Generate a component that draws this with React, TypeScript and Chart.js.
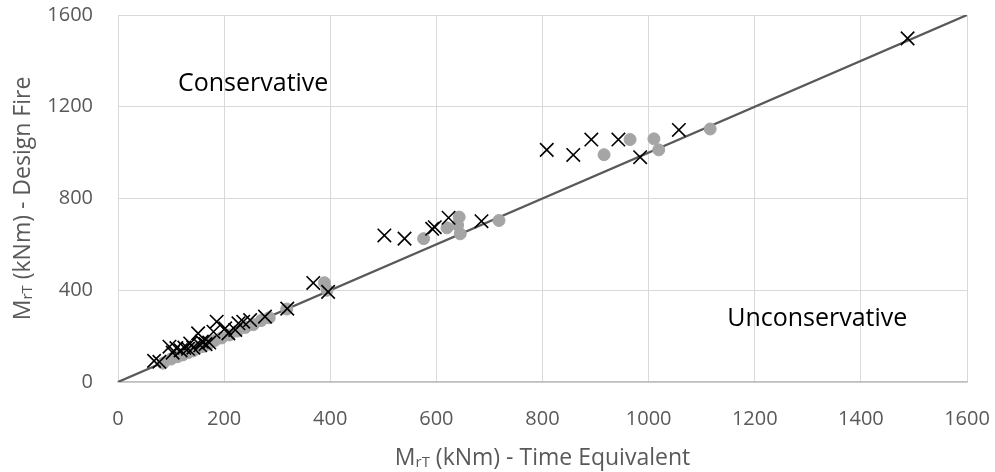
import React, { useEffect, useRef } from 'react';
import { Chart, registerables } from 'chart.js';

Chart.register(...registerables);

// Black crosses: time-equivalent moment (x) vs design-fire moment (y), kNm
const crossX = [68, 78, 97, 103, 110, 118, 125, 132, 136, 142, 151, 155, 158, 165, 172, 180, 186, 202, 208, 221, 227, 236, 249, 277, 319, 368, 396, 502, 540, 592, 597, 623, 685, 808, 858, 892, 943, 984, 1057, 1488];
const crossY = [92, 88, 154, 128, 148, 138, 150, 145, 168, 150, 212, 160, 176, 165, 172, 219, 263, 234, 212, 227, 256, 263, 270, 285, 320, 432, 393, 639, 625, 668, 675, 716, 701, 1012, 990, 1057, 1057, 980, 1099, 1498];

// Grey circles
const circleX = [85, 100, 112, 122, 132, 142, 150, 160, 170, 182, 195, 210, 225, 240, 255, 270, 285, 318, 389, 394, 576, 620, 643, 640, 645, 718, 916, 965, 1010, 1019, 1116];
const circleY = [82, 100, 110, 118, 128, 136, 148, 155, 165, 180, 192, 205, 222, 238, 250, 268, 280, 318, 433, 400, 625, 672, 719, 684, 646, 704, 991, 1057, 1060, 1012, 1103];

// Line of equality
const lineX = [0, 1600];
const lineY = [0, 1600];

const axisMin = 0;
const axisMax = 1600;
const xStep = 200;
const yStep = 400;

const xTitle = ['M', 'rT', ' (kNm) - Time Equivalent'];
const yTitle = ['M', 'rT', ' (kNm) - Design Fire'];
const conservativeLabel = { text: 'Conservative', x: 113, y: 1300 };
const unconservativeLabel = { text: 'Unconservative', x: 1148, y: 275 };

const FONT = '"Open Sans", "DejaVu Sans", sans-serif';

function drawSubText(ctx: CanvasRenderingContext2D, parts: string[], size: number, subSize: number, subDrop: number) {
  const mainFont = `${size}px ${FONT}`;
  const subFont = `${subSize}px ${FONT}`;
  ctx.font = mainFont;
  const w0 = ctx.measureText(parts[0]).width;
  const w2 = ctx.measureText(parts[2]).width;
  ctx.font = subFont;
  const w1 = ctx.measureText(parts[1]).width;
  const total = w0 + w1 + w2;
  let x = -total / 2;
  const baseline = 0.357 * size;
  ctx.textAlign = 'left';
  ctx.textBaseline = 'alphabetic';
  ctx.font = mainFont;
  ctx.fillText(parts[0], x, baseline);
  x += w0;
  ctx.font = subFont;
  ctx.fillText(parts[1], x, baseline + subDrop);
  x += w1;
  ctx.font = mainFont;
  ctx.fillText(parts[2], x, baseline);
}

const annotationPlugin = {
  id: 'annotations',
  afterDraw(chart: any) {
    const ctx: CanvasRenderingContext2D = chart.ctx;
    const ca = chart.chartArea;
    const xs = chart.scales.x;
    const ys = chart.scales.y;
    ctx.save();
    ctx.fillStyle = '#595959';
    // x title
    ctx.save();
    ctx.translate((ca.left + ca.right) / 2, 457);
    drawSubText(ctx, xTitle, 23, 15, 2);
    ctx.restore();
    // y title
    ctx.save();
    ctx.translate(22, (ca.top + ca.bottom) / 2);
    ctx.rotate(-Math.PI / 2);
    drawSubText(ctx, yTitle, 23, 15, 2);
    ctx.restore();
    // region labels
    ctx.fillStyle = '#000000';
    ctx.font = `25px ${FONT}`;
    ctx.textAlign = 'left';
    ctx.textBaseline = 'middle';
    ctx.fillText(conservativeLabel.text, xs.getPixelForValue(conservativeLabel.x), ys.getPixelForValue(conservativeLabel.y));
    ctx.fillText(unconservativeLabel.text, xs.getPixelForValue(unconservativeLabel.x), ys.getPixelForValue(unconservativeLabel.y));
    ctx.restore();
  },
};

function clearPadding(scale: any) {
  scale.paddingTop = 0;
  scale.paddingBottom = 0;
  scale.paddingLeft = 0;
  scale.paddingRight = 0;
}

export default function App() {
  const ref = useRef<HTMLCanvasElement | null>(null);

  useEffect(() => {
    document.body.style.margin = '0';
    const canvas = ref.current;
    if (!canvas) return;
    const crosses = crossX.map((x, i) => ({ x, y: crossY[i] }));
    const circles = circleX.map((x, i) => ({ x, y: circleY[i] }));
    const line = lineX.map((x, i) => ({ x, y: lineY[i] }));

    const chart = new Chart(canvas, {
      type: 'scatter',
      data: {
        datasets: [
          {
            label: 'Crosses',
            data: crosses,
            pointStyle: 'crossRot',
            pointRadius: 9.5,
            pointBorderWidth: 1.6,
            borderColor: '#000000',
            backgroundColor: '#000000',
            order: 0,
          },
          {
            label: 'Circles',
            data: circles,
            pointStyle: 'circle',
            pointRadius: 6,
            pointBorderWidth: 1,
            borderColor: '#A5A5A5',
            backgroundColor: '#A5A5A5',
            order: 1,
          },
          {
            label: 'Equality',
            data: line,
            showLine: true,
            pointRadius: 0,
            borderColor: '#595959',
            borderWidth: 2.25,
            order: 2,
          },
        ],
      },
      options: {
        responsive: false,
        animation: false,
        devicePixelRatio: 1,
        layout: { autoPadding: false, padding: { top: 15, right: 28, left: 0, bottom: 0 } },
        plugins: {
          legend: { display: false },
          tooltip: { enabled: false },
        },
        scales: {
          x: {
            type: 'linear',
            min: axisMin,
            max: axisMax,
            ticks: {
              stepSize: xStep,
              padding: 25,
              color: '#595959',
              font: { family: FONT, size: 20 },
              callback: (v: any) => String(v),
            },
            grid: { color: '#D9D9D9', lineWidth: 1, drawTicks: false },
            border: { display: true, color: '#BFBFBF', width: 1.5 },
            afterFit: (scale: any) => {
              scale.height = 90;
              clearPadding(scale);
            },
          },
          y: {
            type: 'linear',
            min: axisMin,
            max: axisMax,
            ticks: {
              stepSize: yStep,
              padding: 25,
              color: '#595959',
              font: { family: FONT, size: 20 },
              callback: (v: any) => String(v),
            },
            grid: { color: '#D9D9D9', lineWidth: 1, drawTicks: false },
            border: { display: true, color: '#D9D9D9', width: 1 },
            afterFit: (scale: any) => {
              scale.width = 118;
              clearPadding(scale);
            },
          },
        },
      },
      plugins: [annotationPlugin],
    });
    return () => chart.destroy();
  }, []);

  return (
    <div style={{ width: 995, height: 472, background: '#ffffff' }}>
      <canvas ref={ref} width={995} height={472} style={{ display: 'block' }} />
    </div>
  );
}
